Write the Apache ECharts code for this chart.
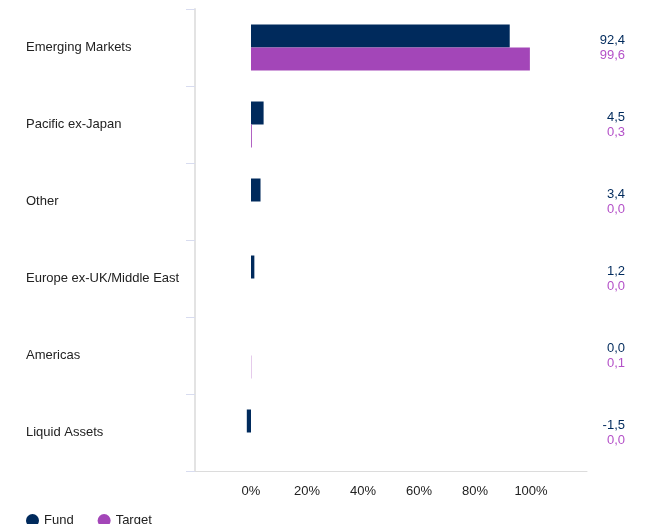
<!DOCTYPE html>
<html>
<head>
<meta charset="utf-8">
<script src="https://cdn.jsdelivr.net/npm/echarts@6/dist/echarts.min.js"></script>
<style>
  html, body { margin: 0; padding: 0; background: #fff; }
  #chart { width: 645px; height: 524px; }
</style>
</head>
<body>
<div id="chart"></div>
<script>
const categories = ['Emerging Markets', 'Pacific ex-Japan', 'Other', 'Europe ex-UK/Middle East', 'Americas', 'Liquid Assets']
const fundValues = [92.4, 4.5, 3.4, 1.2, 0.0, -1.5]
const targetValues = [99.6, 0.3, 0.0, 0.0, 0.1, 0.0]
const seriesNames = ['Fund', 'Target']

const fundColor = '#002a5c'
const targetColor = '#a346b8'
const font = '"Liberation Sans Narrow", "Arial Narrow", "Liberation Sans", sans-serif'

const fmt = (v) => v.toFixed(1).replace('.', ',')

const chart = echarts.init(document.getElementById('chart'))
chart.setOption({
    animation: false,
    textStyle: { fontFamily: font },
    grid: { left: 195, right: 58, top: 9, bottom: 53 },
    legend: {
        data: seriesNames,
        left: 21,
        top: 509,
        icon: 'circle',
        itemWidth: 13,
        itemHeight: 13,
        itemGap: 24,
        textStyle: { fontSize: 13, color: '#222', fontFamily: font }
    },
    xAxis: {
        type: 'value',
        min: -20,
        max: 120,
        interval: 20,
        splitLine: { show: false },
        axisLine: { show: true, lineStyle: { color: '#dcdcdc', width: 1 } },
        axisTick: { show: false },
        axisLabel: {
            margin: 14,
            fontSize: 13,
            color: '#222',
            formatter: (v) => (v < 0 || v > 100) ? '' : v + '%'
        }
    },
    yAxis: [
        {
            type: 'category',
            data: categories,
            inverse: true,
            axisLine: { show: true, onZero: false, lineStyle: { color: '#e3e3e3', width: 2 } },
            axisTick: { show: true, length: 9, lineStyle: { color: '#d8dcef' } },
            axisLabel: {
                align: 'left',
                margin: 169,
                fontSize: 13,
                color: '#222'
            }
        },
        {
            type: 'category',
            data: categories,
            inverse: true,
            position: 'right',
            axisLine: { show: false, onZero: false },
            axisTick: { show: false },
            axisLabel: {
                align: 'right',
                margin: 38,
                formatter: (v, i) => '{f|' + fmt(fundValues[i]) + '}\n{t|' + fmt(targetValues[i]) + '}',
                rich: {
                    f: { color: fundColor, fontSize: 13, lineHeight: 15, align: 'right', fontFamily: font },
                    t: { color: '#b451c8', fontSize: 13, lineHeight: 15, align: 'right', fontFamily: font }
                }
            }
        }
    ],
    series: [
        {
            name: seriesNames[0],
            type: 'bar',
            data: fundValues,
            barWidth: 23,
            barGap: '0%',
            itemStyle: { color: fundColor }
        },
        {
            name: seriesNames[1],
            type: 'bar',
            data: targetValues,
            barWidth: 23,
            barGap: '0%',
            itemStyle: { color: targetColor }
        }
    ]
})
</script>
</body>
</html>
